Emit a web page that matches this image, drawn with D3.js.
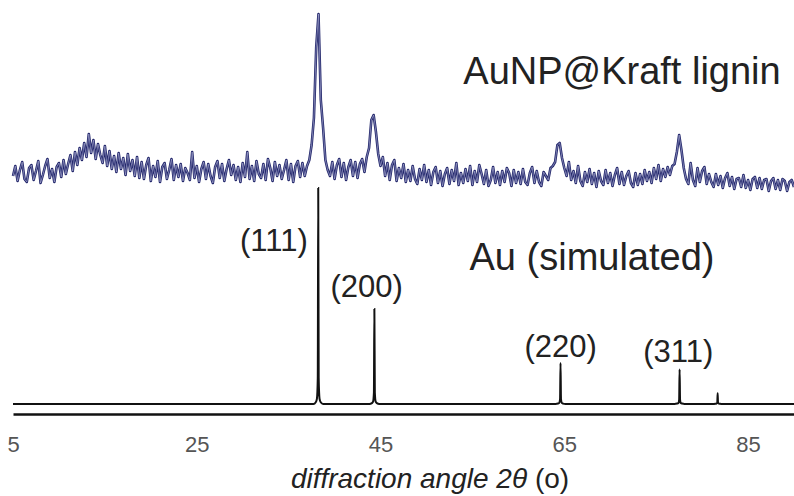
<!DOCTYPE html>
<html>
<head>
<meta charset="utf-8">
<script src="https://cdn.jsdelivr.net/npm/d3@7"></script>
<style>
  body { margin: 0; background: #fff; }
  svg { display: block; }
</style>
</head>
<body>
<div id="chart"></div>
<script>
// measured pattern, 5 to 90 deg in 0.25 deg steps (one row per degree)
var expIntensity = [
  14,24,9,20, 28,11,8,22, 25,10,19,29, 7,15,24,31, 12,21,8,23,
  27,13,30,16, 26,35,19,38, 25,42,30,47, 33,56,37,50, 31,46,35,27,
  44,24,39,21, 34,18,37,21, 32,15,36,19, 30,14,33,12, 28,11,25,32,
  9,24,13,29, 8,23,27,11, 20,31,10,25, 13,26,9,22, 17,10,38,12,
  24,8,21,28, 11,26,14,7, 23,29,12,26, 9,21,30,15, 25,10,23,8,
  27,13,38,11, 24,9,29,16, 12,26,10,31, 22,9,28,14, 25,11,20,30,
  10,26,8,24, 29,13,27,14, 24,30,45,72, 143,176,90,62, 30,20,14,28,
  11,25,31,13, 27,10,23,30, 14,28,12,26, 31,18,33,42, 70,75,58,36,
  24,33,14,27, 10,25,30,9, 22,12,26,8, 20,9,24,11, 6,21,10,25,
  8,20,5,18, 23,7,19,4, 16,22,6,20, 9,27,5,17, 7,21,9,24,
  5,19,8,25, 16,6,20,4, 10,23,7,18, 5,19,8,22, 17,4,20,7,
  18,6,21,8, 5,17,23,7, 19,8,4,18, 14,10,22,24, 28,45,47,32,
  22,14,28,10, 19,7,24,9, 4,18,8,21, 6,17,3,19, 9,5,20,7,
  17,4,15,22, 6,18,5,14, 19,7,3,17, 5,16,6,20, 9,18,7,22,
  11,25,9,21, 13,23,15,24, 26,38,55,40, 22,11,6,27, 10,4,22,8,
  19,23,6,16, 8,3,16,5, 14,2,12,17, 4,13,1,11, 12,3,15,2,
  10,0,11,13, 2,12,1,10, 11,-1,9,12, 1,10,0,11, 9,-1,8,10,
  3
];
var expAngle = d3.range(expIntensity.length).map(function (i) { return 5 + i * 0.25; });

// simulated Au pattern
var simAngle = [5,
  37.7, 37.95, 38.08, 38.17, 38.22, 38.27, 38.36, 38.49, 38.75,
  43.8, 44.06, 44.19, 44.28, 44.33, 44.38, 44.47, 44.6, 44.86,
  64.05, 64.32, 64.45, 64.54, 64.59, 64.64, 64.73, 64.86, 65.12,
  77.0, 77.28, 77.41, 77.5, 77.55, 77.6, 77.69, 77.82, 78.08,
  81.2, 81.43, 81.56, 81.65, 81.69, 81.73, 81.82, 81.95, 82.2,
  90];
var simIntensity = [0,
  0, 0.8, 2.5, 12, 100, 12, 2.5, 0.8, 0,
  0, 0.4, 1.1, 5.3, 44, 5.3, 1.1, 0.4, 0,
  0, 0.2, 0.5, 2.3, 19, 2.3, 0.5, 0.2, 0,
  0, 0.2, 0.4, 1.9, 16, 1.9, 0.4, 0.2, 0,
  0, 0.1, 0.2, 0.6, 5, 0.6, 0.2, 0.1, 0,
  0];

var peakLabels = ["(111)", "(200)", "(220)", "(311)"];
var peakAngles = [33.4, 43.5, 64.6, 77.4];
var peakLabelHeights = [71, 49.5, 21.8, 19.4];
var tickValues = [5, 25, 45, 65, 85];

var w = 794;
var h = 496;

var svg = d3.select("#chart").append("svg")
    .attr("width", w)
    .attr("height", h);

var x = d3.scaleLinear().domain([5, 90]).range([13, 794]);
var yExp = d3.scaleLinear().domain([0, 180]).range([190, 10]);
var ySim = d3.scaleLinear().domain([0, 100]).range([404, 188]);

var expData = expAngle.map(function (a, i) { return [a, expIntensity[i]]; });
var simData = simAngle.map(function (a, i) { return [a, simIntensity[i]]; });

var expLine = d3.line()
    .x(function (d) { return x(d[0]); })
    .y(function (d) { return yExp(d[1]); });

var simLine = d3.line()
    .x(function (d) { return x(d[0]); })
    .y(function (d) { return ySim(d[1]); })
    .curve(d3.curveMonotoneX);

// measured trace: dark outline with a light core
svg.append("path")
    .datum(expData)
    .attr("d", expLine)
    .attr("fill", "none")
    .attr("stroke", "#24286c")
    .attr("stroke-width", 2.6)
    .attr("stroke-linejoin", "round");
svg.append("path")
    .datum(expData)
    .attr("d", expLine)
    .attr("fill", "none")
    .attr("stroke", "#9fa2cc")
    .attr("stroke-width", 0.7);

svg.append("path")
    .datum(simData)
    .attr("d", simLine)
    .attr("fill", "none")
    .attr("stroke", "#111")
    .attr("stroke-width", 2);

// x axis
var axis = svg.append("g")
    .attr("transform", "translate(0,414)")
    .call(d3.axisBottom(x).tickValues(tickValues).tickSize(0).tickPadding(22));
axis.select(".domain").attr("stroke", "#111").attr("stroke-width", 2.6);
axis.selectAll("text")
    .attr("font-family", "Liberation Sans, Arial, sans-serif")
    .attr("font-size", "22px")
    .attr("fill", "#555");

var title = svg.append("text")
    .attr("x", 430)
    .attr("y", 488)
    .attr("text-anchor", "middle")
    .attr("font-family", "Liberation Sans, Arial, sans-serif")
    .attr("font-size", "28px")
    .attr("fill", "#222");
title.append("tspan").attr("font-style", "italic").text("diffraction angle 2θ");
title.append("tspan").text(" (o)");

// labels
svg.selectAll(".peak")
    .data(peakLabels)
    .enter()
    .append("text")
    .attr("class", "peak")
    .text(function (d) { return d; })
    .attr("x", function (d, i) { return x(peakAngles[i]); })
    .attr("y", function (d, i) { return ySim(peakLabelHeights[i]); })
    .attr("text-anchor", "middle")
    .attr("font-family", "Liberation Sans, Arial, sans-serif")
    .attr("font-size", "31px")
    .attr("fill", "#222");

svg.append("text")
    .text("AuNP@Kraft lignin")
    .attr("x", 622)
    .attr("y", 84)
    .attr("text-anchor", "middle")
    .attr("font-family", "Liberation Sans, Arial, sans-serif")
    .attr("font-size", "38px")
    .attr("fill", "#222");

svg.append("text")
    .text("Au (simulated)")
    .attr("x", 592)
    .attr("y", 270)
    .attr("text-anchor", "middle")
    .attr("font-family", "Liberation Sans, Arial, sans-serif")
    .attr("font-size", "38px")
    .attr("fill", "#222");
</script>
</body>
</html>
